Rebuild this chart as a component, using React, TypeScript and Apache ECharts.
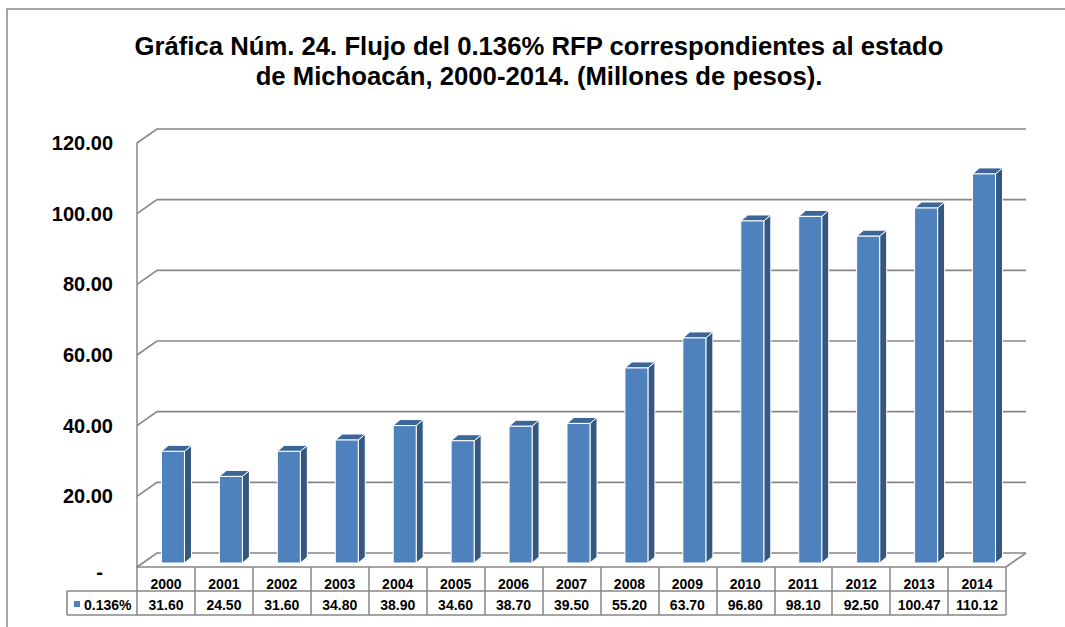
import React, { useEffect, useRef } from "react";
import * as echarts from "echarts";

const categories = ["2000", "2001", "2002", "2003", "2004", "2005", "2006", "2007", "2008", "2009", "2010", "2011", "2012", "2013", "2014"];
const values = [31.6, 24.5, 31.6, 34.8, 38.9, 34.6, 38.7, 39.5, 55.2, 63.7, 96.8, 98.1, 92.5, 100.47, 110.12];
const yTicks = [0, 20, 40, 60, 80, 100, 120];
const seriesName = "0.136%";
const titleLines = [
  "Gráfica Núm. 24. Flujo del 0.136% RFP correspondientes al estado",
  "de Michoacán, 2000-2014. (Millones de pesos).",
];

const FONT = "'Liberation Sans', Arial, Helvetica, sans-serif";
const GRID_COLOR = "#878787";
const BAR_COLOR = "#4F81BD";
const DX = 20;
const DY = 14;

export default function App() {
  const ref = useRef<HTMLDivElement>(null);
  useEffect(() => {
    if (!ref.current) return;
    const chart = echarts.init(ref.current, undefined, { renderer: "svg" });
    const option: any = {
      animation: false,
      backgroundColor: "#ffffff",
      title: {
        text: titleLines.join("\n"),
        left: 534,
        top: 26,
        textAlign: "center",
        textStyle: { fontFamily: FONT, fontSize: 25.7, fontWeight: "bold", color: "#000", lineHeight: 30 },
      },
      graphic: [
        {
          type: "rect",
          shape: { x: 7, y: 9, width: 1200, height: 800 },
          style: { fill: "none", stroke: "#8a8a8a", lineWidth: 1.5 },
          z: -10,
        },
      ],
      grid: { left: 137, top: 143, width: 869, height: 424, containLabel: false },
      xAxis: {
        type: "category",
        data: categories,
        boundaryGap: true,
        axisLine: { show: true, lineStyle: { color: GRID_COLOR, width: 1.5 } },
        axisTick: { show: true, length: 48, interval: 0, lineStyle: { color: GRID_COLOR, width: 1.5 } },
        axisLabel: {
          interval: 0,
          margin: 6,
          formatter: (val: string, idx: number) => `{y|${val}}\n{v|${values[idx].toFixed(2)}}`,
          rich: {
            y: { fontFamily: FONT, fontSize: 14, fontWeight: "bold", color: "#000", lineHeight: 21 },
            v: { fontFamily: FONT, fontSize: 14, fontWeight: "bold", color: "#000", lineHeight: 21 },
          },
        },
        splitLine: { show: false },
      },
      yAxis: {
        type: "value",
        min: 0,
        max: 120,
        interval: 20,
        axisLine: { show: true, lineStyle: { color: GRID_COLOR, width: 1.5 } },
        axisTick: { show: false },
        splitLine: { show: false },
        axisLabel: {
          margin: 24,
          formatter: (v: number) => (v === 0 ? "{d|-}" : v.toFixed(2)),
          fontFamily: FONT,
          fontSize: 20,
          fontWeight: "bold",
          color: "#000",
          rich: {
            d: { fontFamily: FONT, fontSize: 20, fontWeight: "bold", color: "#000", padding: [10, 10, 0, 0] },
          },
        },
      },
      series: [
        {
          type: "custom",
          name: "frame",
          silent: true,
          z: 1,
          clip: false,
          data: yTicks.map((v) => [0, v]),
          encode: { x: 0, y: 1 },
          renderItem: (params: any, api: any) => {
            const v = api.value(1);
            const c0 = api.coord([0, v]);
            const bw = api.size([1, 0])[0];
            const xL = c0[0] - bw / 2;
            const xR = xL + categories.length * bw;
            const y = c0[1];
            const ls = { stroke: GRID_COLOR, lineWidth: 1.6, fill: "none" };
            const children: any[] = [
              {
                type: "polyline",
                shape: { points: [[xL, y], [xL + DX, y - DY], [xR + DX, y - DY]] },
                style: ls,
              },
            ];
            if (v === 0) {
              children.push({ type: "line", shape: { x1: xR, y1: y, x2: xR + DX, y2: y - DY }, style: ls });
              children.push({ type: "line", shape: { x1: xL - 70, y1: y + 24, x2: xR, y2: y + 24 }, style: ls });
              children.push({ type: "line", shape: { x1: xL - 70, y1: y + 48, x2: xR, y2: y + 48 }, style: ls });
              children.push({ type: "line", shape: { x1: xL - 70, y1: y + 24, x2: xL - 70, y2: y + 48 }, style: ls });
              children.push({
                type: "rect",
                shape: { x: xL - 63, y: y + 34, width: 6, height: 6 },
                style: { fill: BAR_COLOR },
              });
              children.push({
                type: "text",
                x: xL - 53,
                y: y + 37.5,
                style: {
                  text: seriesName,
                  fontFamily: FONT,
                  fontSize: 14,
                  fontWeight: "bold",
                  fill: "#000",
                  verticalAlign: "middle",
                  align: "left",
                },
              });
            }
            return { type: "group", children };
          },
        },
        {
          type: "custom",
          name: seriesName,
          z: 3,
          itemStyle: { color: BAR_COLOR },
          data: values.map((v, i) => [i, v]),
          encode: { x: 0, y: 1 },
          renderItem: (params: any, api: any) => {
            const i = api.value(0);
            const v = api.value(1);
            const top = api.coord([i, v]);
            const base = api.coord([i, 0]);
            const x0 = top[0] - 4.5;
            const w = 23;
            const sd = 7;
            const td = 6;
            const yT = top[1] - 4;
            const yB = base[1] - 4;
            const edge = { stroke: "#ffffff", lineWidth: 1 };
            return {
              type: "group",
              children: [
                {
                  type: "polygon",
                  shape: { points: [[x0 + w, yT], [x0 + w + sd, yT - td], [x0 + w + sd, yB - td], [x0 + w, yB]] },
                  style: { fill: "#34587F", ...edge },
                },
                {
                  type: "polygon",
                  shape: { points: [[x0, yT], [x0 + w, yT], [x0 + w + sd, yT - td], [x0 + sd, yT - td]] },
                  style: { fill: "#3D6698", ...edge },
                },
                {
                  type: "rect",
                  shape: { x: x0, y: yT, width: w, height: yB - yT },
                  style: { fill: BAR_COLOR, ...edge },
                },
              ],
            };
          },
        },
      ],
    };
    chart.setOption(option);
    return () => chart.dispose();
  }, []);
  return <div ref={ref} style={{ position: "fixed", left: 0, top: 0, width: 1065, height: 627 }} />;
}
